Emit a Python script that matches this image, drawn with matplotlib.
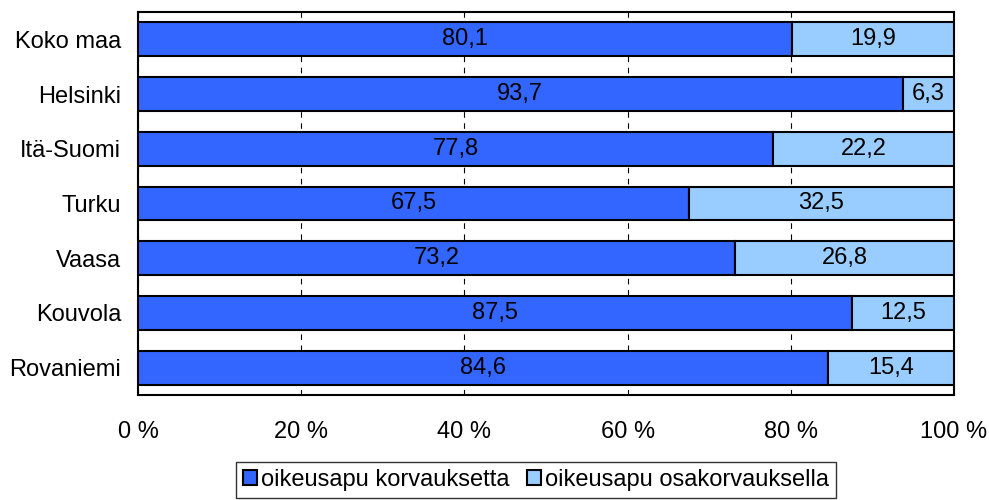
import numpy as np
import matplotlib.pyplot as plt

plt.rcParams['font.family'] = ['Liberation Sans', 'DejaVu Sans']

cities = ['Koko maa', 'Helsinki', 'Itä-Suomi', 'Turku', 'Vaasa', 'Kouvola', 'Rovaniemi']
korvaus = [80.1, 93.7, 77.8, 67.5, 73.2, 87.5, 84.6]
osakorvaus = [19.9, 6.3, 22.2, 32.5, 26.8, 12.5, 15.4]
xticks = [0, 20, 40, 60, 80, 100]

fs = 17

fig = plt.figure(figsize=(9.89, 5), dpi=100)
ax = fig.add_axes([138/989, 1-395/500, (954-138)/989, (395-12)/500])

y = np.arange(len(cities))
ax.barh(y, korvaus, height=0.62, color='#3366FF', edgecolor='black', linewidth=1.5,
        label='oikeusapu korvauksetta', zorder=3)
ax.barh(y, osakorvaus, left=korvaus, height=0.62, color='#99CCFF', edgecolor='black',
        linewidth=1.5, label='oikeusapu osakorvauksella', zorder=3)

for i in range(len(cities)):
    ax.text(korvaus[i]/2, y[i], f'{korvaus[i]:.1f}'.replace('.', ','),
            ha='center', va='center', fontsize=fs, zorder=4)
    ax.text(korvaus[i] + osakorvaus[i]/2, y[i], f'{osakorvaus[i]:.1f}'.replace('.', ','),
            ha='center', va='center', fontsize=fs, zorder=4)

ax.set_xlim(0, 100)
ax.set_ylim(len(cities)-0.5, -0.5)
ax.set_yticks(y)
ax.set_yticklabels(cities, fontsize=fs)
ax.set_xticks(xticks)
ax.set_xticklabels([f'{t} %' for t in xticks], fontsize=fs)
ax.tick_params(axis='both', length=0)
ax.tick_params(axis='x', pad=19)
ax.tick_params(axis='y', pad=12)
ax.grid(axis='x', color='black', linestyle=(0, (5, 5)), linewidth=0.8, zorder=0)
for s in ax.spines.values():
    s.set_linewidth(1.5)

leg = fig.legend(loc='upper center', bbox_to_anchor=(536/989, 1-462/500), ncol=2,
                 fontsize=fs, frameon=True, fancybox=False, handlelength=0.6,
                 handleheight=0.6, handletextpad=0.2, columnspacing=0.7,
                 borderpad=0.3, borderaxespad=0)
leg.get_frame().set_edgecolor('black')
leg.get_frame().set_linewidth(1)

fig.savefig('out.png', dpi=100)
